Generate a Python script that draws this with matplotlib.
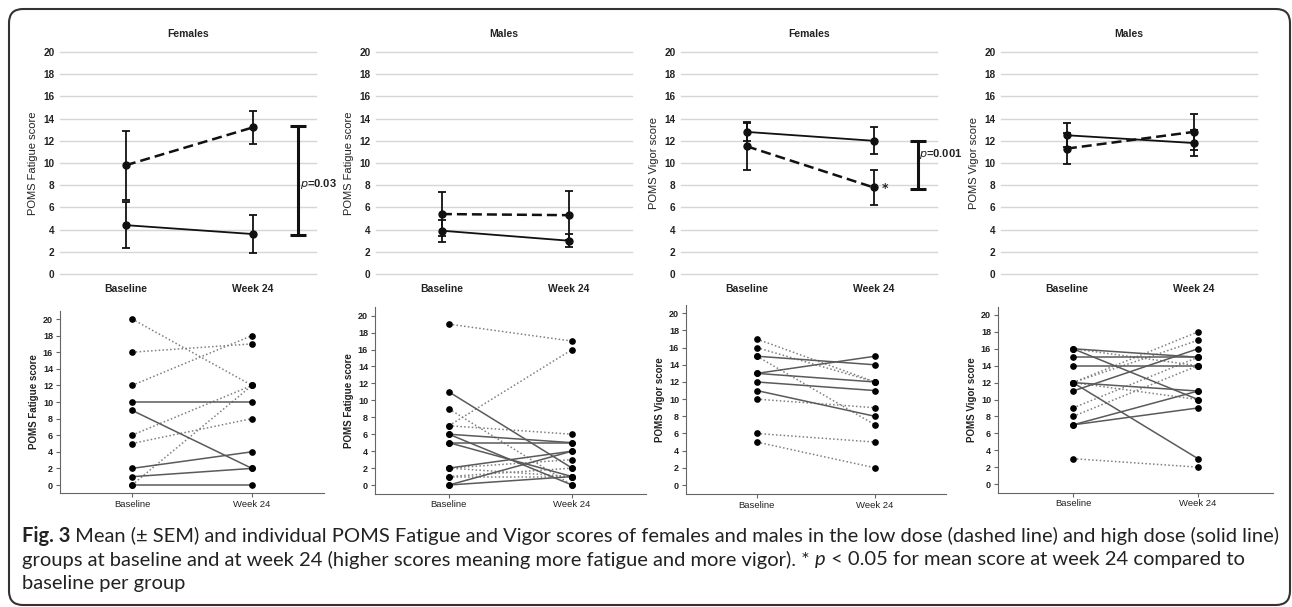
import matplotlib
matplotlib.use('Agg')
import matplotlib.pyplot as plt
from matplotlib.patches import FancyBboxPatch
from matplotlib.transforms import IdentityTransform

W, H = 1292, 607

groups = ['Baseline', 'Week 24']
yticks = list(range(0, 21, 2))

# top row: mean (+- SEM) per group
titles = ['Females', 'Males', 'Females', 'Males']
ylabels = ['POMS Fatigue score', 'POMS Fatigue score', 'POMS Vigor score', 'POMS Vigor score']

low_mean = [[9.8, 13.2], [5.4, 5.3], [11.5, 7.8], [11.3, 12.8]]
low_lo = [[6.7, 11.7], [3.4, 3.1], [9.4, 6.2], [9.9, 11.2]]
low_hi = [[12.9, 14.7], [7.4, 7.5], [13.6, 9.4], [12.7, 14.4]]
high_mean = [[4.4, 3.6], [3.9, 3.0], [12.8, 12.0], [12.5, 11.8]]
high_lo = [[2.3, 1.9], [2.9, 2.4], [12.0, 10.8], [11.4, 10.6]]
high_hi = [[6.5, 5.3], [4.9, 3.6], [13.7, 13.2], [13.6, 13.0]]

# between-group difference brackets (panel, low end, high end, label, label y)
p_panel = [0, 2]
p_lo = [3.5, 7.7]
p_hi = [13.3, 12.0]
p_text = ['0.03', '0.001']
p_texty = [8.1, 10.8]
star_panel = 2  # * p<0.05 week 24 vs baseline, low dose

# bottom row: individual scores (baseline, week 24)
ind_low = [
    [(20, 12), (16, 17), (12, 18), (6, 12), (5, 8), (0, 12)],
    [(19, 17), (7, 16), (7, 6), (9, 0), (2, 3), (1, 2), (1, 1), (2, 1)],
    [(17, 12), (16, 12), (15, 7), (10, 9), (6, 5), (5, 2)],
    [(16, 14), (12, 18), (12, 17), (12, 10), (9, 15), (8, 14), (3, 2)],
]
ind_high = [
    [(10, 10), (9, 2), (2, 4), (1, 2), (0, 0)],
    [(11, 2), (6, 5), (5, 5), (6, 0), (5, 1), (2, 4), (0, 4), (0, 1)],
    [(15, 14), (13, 15), (13, 12), (12, 11), (11, 8)],
    [(16, 15), (16, 10), (15, 15), (14, 14), (12, 11), (12, 3), (11, 16), (7, 11), (7, 9)],
]

cap_font = ['Lato', 'DejaVu Sans']
ax_font = ['Liberation Sans', 'DejaVu Sans']

fig = plt.figure(figsize=(W / 100, H / 100), dpi=100)


def px_axes(left, top, width, bottom):
    return fig.add_axes([left / W, 1 - bottom / H, width / W, (bottom - top) / H])


# ---------- top row ----------
top_left = [60, 376, 681, 1001]
for i in range(4):
    ax = px_axes(top_left[i], 52, 256, 274)
    ax.set_xlim(-0.52, 1.5)
    ax.set_ylim(0, 20)
    ax.set_yticks(yticks)
    ax.set_xticks([0, 1])
    ax.set_xticklabels(groups, fontsize=7.5, fontweight='bold', family=ax_font, color='#222')
    ax.tick_params(axis='y', length=0, pad=4, labelsize=7.2, labelcolor='#222')
    ax.tick_params(axis='x', length=0, pad=7)
    for lab in ax.get_yticklabels():
        lab.set_fontweight('bold')
        lab.set_family(ax_font)
    for s in ax.spines.values():
        s.set_visible(False)
    ax.grid(axis='y', color='#d6d6d6', lw=1.0, clip_on=False)
    ax.set_axisbelow(True)
    ax.set_title(titles[i], fontsize=7.5, fontweight='bold', family=ax_font, pad=11, color='#222')
    ax.set_ylabel(ylabels[i], fontsize=8, family=ax_font, labelpad=4, color='#222')

    x = [0, 1]
    lm, hm = low_mean[i], high_mean[i]
    ax.errorbar(x, lm, yerr=[[lm[k] - low_lo[i][k] for k in x], [low_hi[i][k] - lm[k] for k in x]],
                fmt='none', ecolor='#111', elinewidth=1.3, capsize=3, capthick=1.3, zorder=3)
    ax.errorbar(x, hm, yerr=[[hm[k] - high_lo[i][k] for k in x], [high_hi[i][k] - hm[k] for k in x]],
                fmt='none', ecolor='#111', elinewidth=1.3, capsize=3, capthick=1.3, zorder=3)
    ax.plot(x, lm, color='#111', lw=1.8, ls=(0, (4, 2)), marker='o', ms=5, zorder=4)
    ax.plot(x, hm, color='#111', lw=1.3, ls='-', marker='o', ms=5, zorder=4)

    if i in p_panel:
        j = p_panel.index(i)
        bx = 1.36 if i == 0 else 1.35
        ax.plot([bx, bx], [p_lo[j], p_hi[j]], color='#111', lw=2.2, solid_capstyle='butt', clip_on=False)
        ax.plot([bx, bx], [p_lo[j], p_hi[j]], ls='none', marker='_', ms=12, mew=2.2, color='#111', clip_on=False)
        ax.text(bx + 0.01, p_texty[j], '$p$=' + p_text[j], fontsize=8, fontweight='bold',
                family=ax_font, ha='left', va='center', color='#222', clip_on=False)
    if i == star_panel:
        ax.text(1.09, lm[1] - 0.1, '*', fontsize=9, fontweight='bold', ha='center', va='center', color='#222')

# ---------- bottom row ----------
bot_left = [60, 375, 686, 998]
bot_width = [264, 271, 260, 275]
bot_top = [310.7, 307.2, 304.7, 306.5]
bot_bottom = [493.3, 493.5, 493.6, 492.5]
for i in range(4):
    ax = px_axes(bot_left[i], bot_top[i], bot_width[i], bot_bottom[i])
    ax.set_xlim(-0.6, 1.6)
    ax.set_ylim(-1, 21)
    for s in ['top', 'right']:
        ax.spines[s].set_visible(False)
    for s in ['left', 'bottom']:
        ax.spines[s].set_color('#666')
        ax.spines[s].set_linewidth(0.8)
    ax.set_yticks(yticks)
    ax.set_xticks([0, 1])
    ax.set_xticklabels(groups, fontsize=6.8, family=ax_font, color='#222')
    ax.tick_params(axis='both', direction='out', length=3, width=0.8, color='#666', pad=2)
    ax.tick_params(axis='y', labelsize=6.5, labelcolor='#222')
    for lab in ax.get_yticklabels():
        lab.set_fontweight('bold')
        lab.set_family(ax_font)
    ax.set_ylabel(ylabels[i], fontsize=7, fontweight='bold', family=ax_font, labelpad=3, color='#222')

    for b, w in ind_low[i]:
        ax.plot([0, 1], [b, w], color='#808080', lw=1.1, ls=(0, (1, 1.5)), zorder=2)
    for b, w in ind_high[i]:
        ax.plot([0, 1], [b, w], color='#5a5a5a', lw=1.1, ls='-', zorder=2)
    for b, w in ind_low[i] + ind_high[i]:
        ax.plot([0, 1], [b, w], ls='none', marker='o', ms=3.8, color='#000', zorder=3)

# ---------- caption ----------
r = fig.canvas.get_renderer()
line1 = [('Fig. 3', {'fontweight': 'bold'}),
         (' Mean (\u00b1 SEM) and individual POMS Fatigue and Vigor scores of females and males in the low dose '
          '(dashed line) and high dose (solid line)', {})]
line2 = [('groups at baseline and at week 24 (higher scores meaning more fatigue and more vigor). * ', {}),
         ('p', {'fontstyle': 'italic'}),
         (' < 0.05 for mean score at week 24 compared to', {})]
line3 = [('baseline per group', {})]


def rich_line(x, y, pieces, size, draw=True):
    x0 = x
    for s, kw in pieces:
        t = fig.text(x / W, 1 - y / H, s, fontsize=size, va='center', ha='left',
                     family=cap_font, color='#222', **kw)
        x += t.get_window_extent(renderer=r).width
        if not draw:
            t.remove()
    return x - x0


w10 = rich_line(22, 536, line1, 10, draw=False)
cap_size = 10 * 1256 / w10
rich_line(22, 536, line1, cap_size)
rich_line(22, 560, line2, cap_size)
rich_line(22, 584, line3, cap_size)

border = FancyBboxPatch((9, 2), 1281, 596, boxstyle='round,pad=0,rounding_size=14',
                        transform=IdentityTransform(), fill=False, ec='#333', lw=1.5)
fig.patches.append(border)

fig.savefig('out.png', dpi=100)
